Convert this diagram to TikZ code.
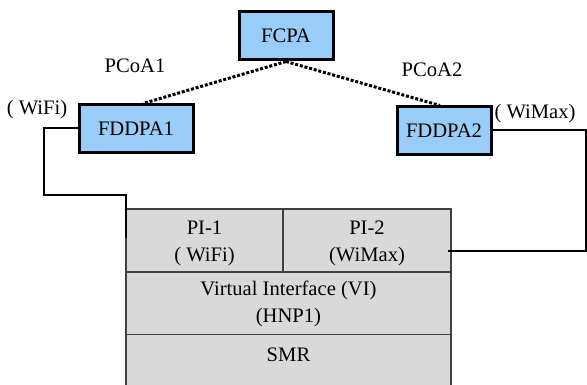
\documentclass[tikz,border=0pt]{standalone}
\usepackage{fontspec}
\setmainfont{Liberation Serif}
\usetikzlibrary{positioning,calc}

\definecolor{agentblue}{HTML}{99CCF6}
\definecolor{stackgray}{HTML}{D9D9D9}

\tikzset{
  agent/.style={draw, line width=3pt, fill=agentblue, minimum height=48pt, inner sep=0pt},
  tunnel/.style={line width=3pt, dash pattern=on 3pt off 1.8pt},
  link/.style={line width=2.8pt},
  layer/.style={draw=black!75, line width=1.4pt, fill=stackgray},
  txt/.style={inner sep=0pt, align=center},
}

\begin{document}
\begin{tikzpicture}[x=1pt, y=-1pt, font=\fontsize{20.6}{27}\selectfont]

  \clip (0,0) rectangle (587,385);

  \node[agent, minimum width=94pt] (fcpa) at (286,36) {FCPA};
  \node[agent, minimum width=114pt] (fddpa1) at (136,129) {FDDPA1};
  \node[agent, minimum width=94pt] (fddpa2) at (444,131) {FDDPA2};

  \node[txt] (pcoa1) at (135,66) {PCoA1};
  \node[txt] (pcoa2) at (432,70) {PCoA2};
  \node[txt] (wifi) at (37,110) {( WiFi)};
  \node[txt] (wimax) at (535,114) {( WiMax)};

  \draw[tunnel] (fcpa.south) -- ($(fddpa1.north)+(7,0)$);
  \draw[tunnel] (fcpa.south) -- ($(fddpa2.north)+(-4,0)$);

  % protocol stack of the mobile node
  \path[layer] (126,209) rectangle (451,272);
  \path[layer] (126,272) rectangle (451,335);
  \fill[stackgray] (126,335) rectangle (451,400);
  \draw[black!75, line width=1.4pt] (126,335) -- (126,400) (451,335) -- (451,400);
  \draw[black!75, line width=1.4pt] (283,209) -- (283,272);

  \node[txt] (pi1) at (204.5,243.5) {PI-1\\( WiFi)};
  \node[txt] (pi2) at (367,243.5) {PI-2\\(WiMax)};
  \node[txt] (vi) at (288.5,304) {Virtual Interface (VI)\\(HNP1)};
  \node[txt] (smr) at (288.5,355) {SMR};

  \coordinate (pi1in) at (126,238);
  \coordinate (pi2in) at (448,251);

  \draw[link] ($(fddpa1.west)+(0,-1)$) -- (44,128) -- (44,195) -- (126,195) -- (pi1in);
  \draw[link, line width=2pt] (fddpa2.east |- 0,130) -- (585.5,130) -- (585.5,251) -- (pi2in);

\end{tikzpicture}
\end{document}
